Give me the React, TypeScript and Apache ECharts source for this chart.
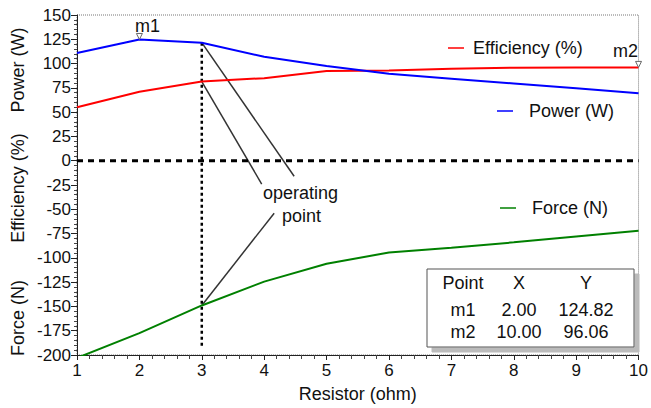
import React, { useEffect, useRef } from "react";
import * as echarts from "echarts";

const resistor = [1, 2, 3, 4, 5, 6, 7, 8, 9, 10];
const powerW = [110.8, 124.82, 121.5, 107, 97.5, 89.5, 84.5, 79.5, 74.5, 69.5];
const efficiency = [55, 71, 81.5, 85, 92.4, 92.8, 94.7, 95.7, 96, 96.06];
const forceN = [-203, -177.5, -149, -124.5, -106, -94.5, -89.5, -84, -78, -72];
const yTicks = { min: -200, max: 150, step: 25 };
const markerNames = ["m1", "m2"];
const markerX = [2, 10];
const markerY = [124.82, 96.06];
const opX = 3;
const opFloor = -193;
const annotationEnds = [
  [4.48, -16],
  [3.96, -24],
  [4.16, -54],
];

const FONT = "'Liberation Sans', Arial, sans-serif";
const TF = 18;
const AF = 17;

export default function App() {
  const ref = useRef<HTMLDivElement>(null);
  useEffect(() => {
    if (!ref.current) return;
    const chart = echarts.init(ref.current, undefined, { renderer: "svg" });
    const pts = (ys: number[]) => resistor.map((x, i) => [x, ys[i]]);
    const idx = resistor.indexOf(opX);
    const opSources = [powerW[idx], efficiency[idx], forceN[idx]];
    const annoSeries = annotationEnds.map((e, i) => ({
      type: "line",
      data: [
        [opX, opSources[i]],
        [e[0], e[1]],
      ],
      symbol: "none",
      silent: true,
      lineStyle: { color: "#333", width: 1.5 },
      z: 1,
    }));
    const markerSeries = markerNames.map((n, i) => ({
      type: "line",
      data: [],
      markPoint: {
        symbol: "triangle",
        symbolRotate: 180,
        symbolSize: 6,
        symbolOffset: [0, -3],
        itemStyle: { color: "#fff", borderColor: "#666", borderWidth: 1 },
        label: {
          show: true,
          formatter: n,
          position: "top",
          offset: i === 0 ? [8, 7] : [-13, 4],
          color: "#111",
          fontSize: TF,
          fontFamily: FONT,
        },
        data: [{ coord: [markerX[i], markerY[i]] }],
      },
    }));
    const tableRows = [["Point", "X", "Y"], ...markerNames.map((n, i) => [n, markerX[i].toFixed(2), markerY[i].toFixed(2)])];
    const colX = [463, 519, 586];
    const rowY = [283, 310, 332];
    const tableTexts: any[] = [];
    tableRows.forEach((r, ri) =>
      r.forEach((t, ci) =>
        tableTexts.push({
          type: "text",
          x: colX[ci],
          y: rowY[ri],
          style: { text: t, fill: "#111", font: `${TF}px ${FONT}`, textAlign: "center", textVerticalAlign: "middle" },
          z: 101,
        })
      )
    );
    const legend = [
      { name: "Efficiency (%)", color: "#ff0000", lx: 448, tx: 473, y: 48 },
      { name: "Power (W)", color: "#0000ff", lx: 497, tx: 529, y: 111 },
      { name: "Force (N)", color: "#008000", lx: 500, tx: 532, y: 208 },
    ];
    const legendEls: any[] = [];
    legend.forEach((l) => {
      legendEls.push({ type: "line", shape: { x1: l.lx, y1: l.y, x2: l.lx + 16, y2: l.y }, style: { stroke: l.color, lineWidth: 1.5 } });
      legendEls.push({ type: "text", x: l.tx, y: l.y, style: { text: l.name, fill: "#111", font: `${TF}px ${FONT}`, textVerticalAlign: "middle" } });
    });
    const yNames = [
      { t: "Power (W)", y: 70 },
      { t: "Efficiency (%)", y: 188 },
      { t: "Force (N)", y: 318 },
    ];
    chart.setOption({
      animation: false,
      textStyle: { fontFamily: FONT },
      grid: { left: 77, right: 8, top: 15, bottom: 51, show: true, borderColor: "#777", borderType: "dotted", borderWidth: 1 },
      xAxis: {
        type: "value",
        min: 1,
        max: 10,
        interval: 1,
        name: "Resistor (ohm)",
        nameLocation: "middle",
        nameGap: 30,
        nameTextStyle: { fontSize: TF, color: "#111", fontFamily: FONT },
        axisLine: { onZero: false, lineStyle: { color: "#222", width: 1 } },
        axisTick: { length: 5, lineStyle: { color: "#222" } },
        minorTick: { show: true, splitNumber: 5, length: 4, lineStyle: { color: "#444" } },
        axisLabel: { fontSize: AF, color: "#111", margin: 7, fontFamily: FONT },
        splitLine: { show: false },
      },
      yAxis: {
        type: "value",
        min: yTicks.min,
        max: yTicks.max,
        interval: yTicks.step,
        axisLine: { show: true, onZero: false, lineStyle: { color: "#222", width: 1 } },
        axisTick: { show: true, length: 6, lineStyle: { color: "#222" } },
        minorTick: { show: true, splitNumber: 5, length: 3, lineStyle: { color: "#444" } },
        axisLabel: { fontSize: AF, color: "#111", margin: 6, fontFamily: FONT },
        splitLine: { show: false },
      },
      graphic: [
        ...yNames.map((n) => ({
          type: "text",
          x: 18,
          y: n.y,
          rotation: Math.PI / 2,
          style: { text: n.t, fill: "#111", font: `${TF}px ${FONT}`, textAlign: "center", textVerticalAlign: "middle" },
        })),
        { type: "text", x: 263, y: 193, style: { text: "operating", fill: "#111", font: `${TF}px ${FONT}`, textVerticalAlign: "middle" } },
        { type: "text", x: 282, y: 216, style: { text: "point", fill: "#111", font: `${TF}px ${FONT}`, textVerticalAlign: "middle" } },
        ...legendEls,
        {
          type: "rect",
          shape: { x: 427, y: 269, width: 207, height: 78 },
          style: { fill: "#fff", stroke: "#555", lineWidth: 1, shadowColor: "#bbb", shadowOffsetX: 5, shadowOffsetY: 5, shadowBlur: 0 },
          z: 100,
        },
        ...tableTexts,
      ],
      series: [
        {
          type: "line",
          data: [
            [resistor[0], 0],
            [resistor[resistor.length - 1], 0],
          ],
          symbol: "none",
          silent: true,
          lineStyle: { color: "#000", width: 3, type: [6, 5] },
          z: 2,
        },
        {
          type: "line",
          data: [
            [opX, powerW[idx]],
            [opX, opFloor],
          ],
          symbol: "none",
          silent: true,
          lineStyle: { color: "#000", width: 2.5, type: [3, 3] },
        },
        ...annoSeries,
        { name: "Efficiency (%)", type: "line", data: pts(efficiency), symbol: "none", lineStyle: { color: "#ff0000", width: 2 }, z: 3 },
        { name: "Power (W)", type: "line", data: pts(powerW), symbol: "none", lineStyle: { color: "#0000ff", width: 2 }, z: 3 },
        { name: "Force (N)", type: "line", data: pts(forceN), symbol: "none", lineStyle: { color: "#008000", width: 2 }, z: 3 },
        ...markerSeries,
      ],
    });
    return () => chart.dispose();
  }, []);
  return <div ref={ref} style={{ width: 651, height: 408, position: "absolute", left: 0, top: 0 }} />;
}
